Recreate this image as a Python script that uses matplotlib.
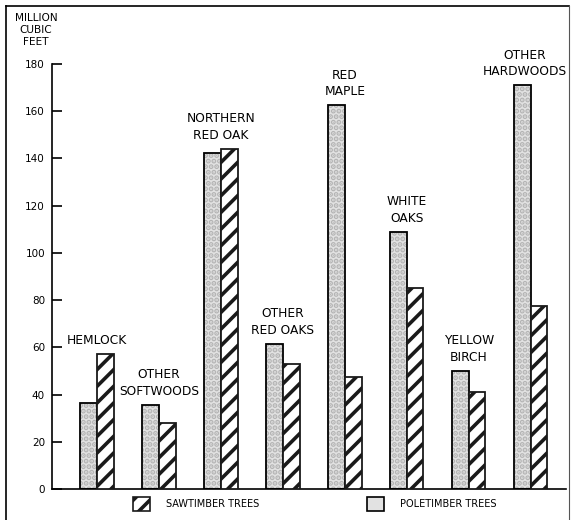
import matplotlib.pyplot as plt
import matplotlib.patches as mpatches
from matplotlib.lines import Line2D
import numpy as np

# Daten (Millionen Kubikfuß)
species = ['HEMLOCK', 'OTHER\nSOFTWOODS', 'NORTHERN\nRED OAK', 'OTHER\nRED OAKS',
           'RED\nMAPLE', 'WHITE\nOAKS', 'YELLOW\nBIRCH', 'OTHER\nHARDWOODS']
poletimber = [36.5, 35.5, 142.5, 61.5, 162.5, 109, 50, 171]
sawtimber = [57, 28, 144, 53, 47.5, 85, 41, 77.5]
yticks = [0, 20, 40, 60, 80, 100, 120, 140, 160, 180]
ytick_labels = ['0', '20', '40', '60', '80', '100', '120', '140', '160', '180']


def main():
    plt.rcParams['font.family'] = ['DejaVu Sans']
    plt.rcParams['hatch.linewidth'] = 2.6

    fig = plt.figure(figsize=(5.71, 5.2), dpi=100)
    ax = fig.add_axes([52/571, 1 - 489/520, 514/571, (489 - 64)/520])

    x = np.arange(len(species))
    w = 0.27

    # Poletimber: hell gepunktet
    ax.bar(x - w/2, poletimber, w, color='#e2e2e2', hatch='...',
           edgecolor='#b4b4b4', linewidth=0, zorder=2)
    ax.bar(x - w/2, poletimber, w, fill=False, edgecolor='black',
           linewidth=1.3, zorder=3)
    # Sawtimber: schraffiert
    ax.bar(x + w/2, sawtimber, w, color='white', hatch='//',
           edgecolor='#1a1a1a', linewidth=1.3, zorder=3)

    # Beschriftung der Gruppen (letzte etwas nach links, sonst abgeschnitten)
    for i, (xi, name, p, s) in enumerate(zip(x, species, poletimber, sawtimber)):
        dx = -4 if i == len(species) - 1 else 0
        ax.annotate(name, (xi, max(p, s)), xytext=(dx, 5), textcoords='offset points',
                    ha='center', va='bottom', fontsize=8.8, linespacing=1.38,
                    annotation_clip=False)

    ax.set_xlim(-0.726, 7.57)
    ax.set_ylim(0, 180)
    ax.set_yticks(yticks)
    ax.set_yticklabels(ytick_labels, fontsize=7.5)
    ax.set_xticks([])
    ax.tick_params(axis='y', direction='in', length=7, width=1.2, pad=5)
    for side in ['top', 'right']:
        ax.spines[side].set_visible(False)
    ax.spines['left'].set_linewidth(1.2)
    ax.spines['bottom'].set_linewidth(1.2)

    fig.text(36/571, 1 - 30/520, 'MILLION\nCUBIC\nFEET', ha='center', va='center',
             fontsize=7.6, linespacing=1.3)

    # Legende
    handles = [mpatches.Patch(facecolor='white', edgecolor='#1a1a1a', hatch='//', linewidth=1.2),
               mpatches.Patch(facecolor='#e2e2e2', edgecolor='black', linewidth=1.2)]
    ax.legend(handles, ['SAWTIMBER TREES', 'POLETIMBER TREES'], ncol=2,
              loc='upper left', bbox_to_anchor=(129/571, 1 - 493/520),
              bbox_transform=fig.transFigure, borderaxespad=0, frameon=False,
              fontsize=7, handlelength=1.8, handleheight=1.9, handletextpad=1.65,
              columnspacing=11)

    # Rahmen
    fig.add_artist(Line2D([6/571, 6/571], [0, 1 - 6/520], color='black', lw=1.2))
    fig.add_artist(Line2D([6/571, 569/571], [1 - 6/520, 1 - 6/520], color='black', lw=1.2))
    fig.add_artist(Line2D([569/571, 569/571], [0, 1 - 6/520], color='#555555', lw=0.8))

    fig.savefig('out.png', dpi=100)


if __name__ == '__main__':
    main()
